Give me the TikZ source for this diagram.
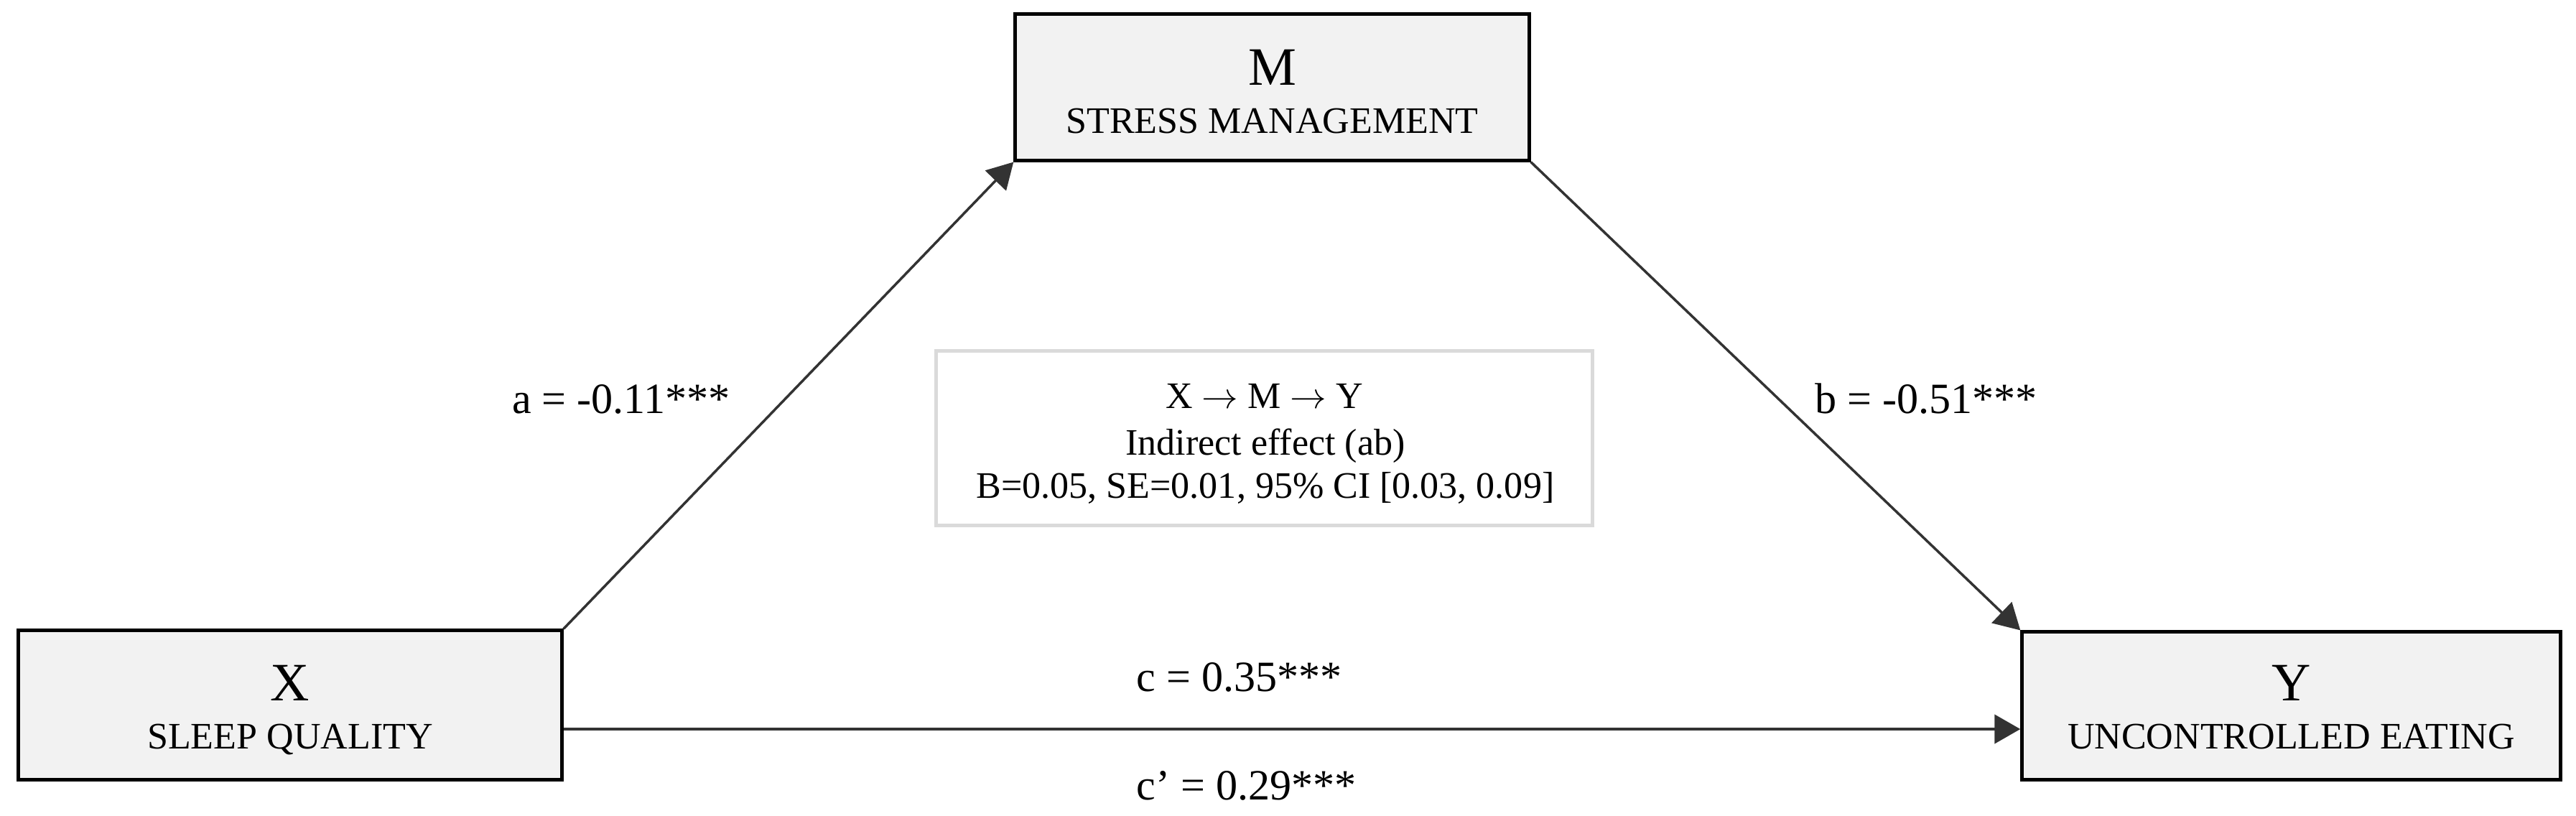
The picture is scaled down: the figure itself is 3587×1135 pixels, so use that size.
\documentclass[tikz,border=0pt]{standalone}
\usepackage{fontspec}
\setmainfont{Liberation Serif}
\usetikzlibrary{arrows.meta}
\definecolor{boxfill}{HTML}{F2F2F2}
\definecolor{iebord}{HTML}{DADADA}
\definecolor{linecol}{HTML}{333333}
\newcommand{\bigletter}{\fontsize{21.4pt}{25pt}\selectfont}
\newcommand{\boxlabel}{\fontsize{14.8pt}{17pt}\selectfont}
\newcommand{\edgelabel}{\fontsize{17.1pt}{20pt}\selectfont}
\begin{document}
\begin{tikzpicture}[x=0.01cm,y=-0.01cm,
  varbox/.style={draw=black, line width=0.05cm, fill=boxfill, inner sep=0pt},
  txt/.style={anchor=base, inner sep=0pt},
  conn/.style={draw=linecol, line width=0.035cm, -{Triangle[length=0.36cm,width=0.4cm]}},
  lbl/.style={anchor=base, inner sep=0pt, font=\edgelabel}]
\useasboundingbox (0,0) rectangle (3587,1135);
% boxes
\node[varbox, minimum width=7.15cm, minimum height=2.03cm] (M) at (1771.5,121.5) {};
\node[varbox, minimum width=7.56cm, minimum height=2.07cm] (X) at (404,981.5) {};
\node[varbox, minimum width=7.49cm, minimum height=2.05cm] (Y) at (3190.5,982.5) {};
\node[draw=iebord, line width=0.05cm, fill=white, minimum width=9.13cm, minimum height=2.42cm, inner sep=0pt] (IE) at (1760.5,610) {};
% box texts
\node[txt, font=\bigletter] (Mt) at (1771.5,118) {M};
\node[txt, font=\boxlabel] (Ms) at (1771.5,185) {STRESS MANAGEMENT};
\node[txt, font=\bigletter] (Xt) at (404,975) {X};
\node[txt, font=\boxlabel] (Xs) at (404,1042) {SLEEP QUALITY};
\node[txt, font=\bigletter] (Yt) at (3190.5,975) {Y};
\node[txt, font=\boxlabel] (Ys) at (3190.5,1042) {UNCONTROLLED EATING};
% indirect effect text
\node[txt, font=\boxlabel] (ie1) at (1760.5,568) {X $\rightarrow$ M $\rightarrow$ Y};
\node[txt, font=\boxlabel] (ie2) at (1762,633) {Indirect effect (ab)};
\node[txt, font=\boxlabel] (ie3) at (1762,693) {B=0.05, SE=0.01, 95\% CI [0.03, 0.09]};
% connectors
\coordinate (cy) at (0,1015);
\draw[conn] (X.north east) -- (M.south west);
\draw[conn] (M.south east) -- (Y.north west);
\draw[conn, line width=0.045cm] (X.east |- cy) -- (Y.west |- cy);
% edge labels
\node[lbl] (la) at (865,575) {a = -0.11***};
\node[lbl] (lb) at (2682,575) {b = -0.51***};
\node[lbl, anchor=base west] (lc) at (1582,962) {c = 0.35***};
\node[lbl, anchor=base west] (lcp) at (1582,1113) {c’ = 0.29***};
\end{tikzpicture}
\end{document}
